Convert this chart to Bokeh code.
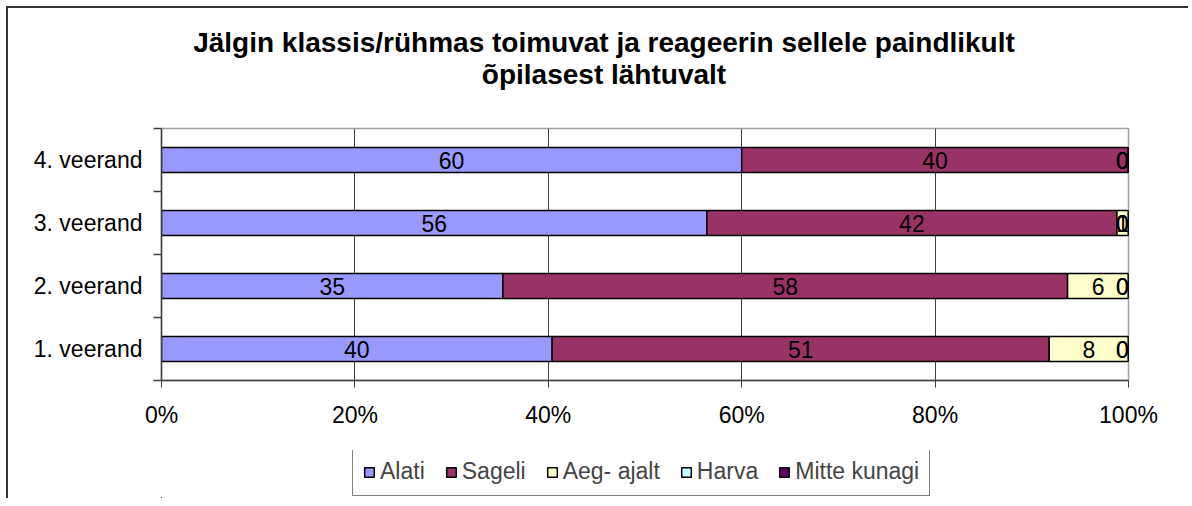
import numpy as np
from bokeh.plotting import figure
from bokeh.layouts import column
from bokeh.models import (ColumnDataSource, FixedTicker, PrintfTickFormatter, Div,
                          Legend, LegendItem, Range1d, LabelSet)
from bokeh.core.properties import value
from bokeh.embed import file_html
from bokeh.resources import INLINE

# ---------------- data ----------------
categories = ["1. veerand", "2. veerand", "3. veerand", "4. veerand"]
series = ["Alati", "Sageli", "Aeg- ajalt", "Harva", "Mitte kunagi"]
alati = [40.4, 35.3, 56.4, 60.0]
sageli = [51.4, 58.4, 42.4, 40.0]
aeg_ajalt = [8.2, 6.3, 1.2, 0.0]
harva = [0.0, 0.0, 0.0, 0.0]
mitte_kunagi = [0.0, 0.0, 0.0, 0.0]
colors = ["#9999FF", "#993366", "#FFFFCC", "#CCFFFF", "#660066"]
x_ticks = [0, 20, 40, 60, 80, 100]
title_lines = ["Jälgin klassis/rühmas toimuvat ja reageerin sellele paindlikult",
               "õpilasest lähtuvalt"]

FONT = "Liberation Sans"
W = 1170
TITLE_H = 90

values = [alati, sageli, aeg_ajalt, harva, mitte_kunagi]
ypos = np.arange(len(categories)) + 0.5
src = ColumnDataSource(dict(y=ypos, **{s: v for s, v in zip(series, values)}))

# label positions (segment centres)
arr = np.array(values)
cum = np.cumsum(arr, axis=0)
starts = cum - arr
lx, ly, lt, lo = [], [], [], []
for i in range(len(series)):
    for j in range(len(categories)):
        cx = starts[i, j] + arr[i, j] / 2
        lx.append(cx)
        ly.append(ypos[j])
        lt.append(str(int(round(arr[i, j]))))
        lo.append(-6 if cx > 99.7 else 0)
lab_src = ColumnDataSource(dict(x=lx, y=ly, t=lt, off=lo))

# ---------------- title ----------------
title_div = Div(
    text=(f'<div style="position:relative;left:6px;width:{W}px;text-align:center;'
          f'font-family:\'{FONT}\';font-weight:bold;font-size:28px;line-height:32px;'
          'color:black;padding-top:14px;">'
          + "<br>".join(title_lines) + '</div>'),
    width=W, height=TITLE_H)

# ---------------- main chart ----------------
p = figure(width=W, height=342, x_range=Range1d(0, 100), y_range=Range1d(0, 4),
           output_backend="svg", toolbar_location=None,
           min_border_left=153, min_border_right=W - 1120, min_border_top=20,
           min_border_bottom=70)
p.background_fill_color = "white"
p.border_fill_color = "white"
p.outline_line_color = "#a0a0a0"
p.outline_line_width = 1.5

renderers = p.hbar_stack(series, y="y", height=0.4, color=colors, line_color="black",
                         line_width=1.5, source=src)

labels = LabelSet(x="x", y="y", text="t", x_offset="off", source=lab_src, text_align="center",
                  text_baseline="middle", text_font=value(FONT), text_font_size="23px",
                  text_color="black")
p.add_layout(labels)

# x axis
p.xaxis.ticker = FixedTicker(ticks=x_ticks, minor_ticks=[])
p.xaxis.formatter = PrintfTickFormatter(format="%d%%")
p.xaxis.major_tick_out = 7
p.xaxis.major_tick_in = 0
p.xaxis.major_tick_line_color = "#404040"
p.xaxis.axis_line_color = "#404040"
p.xaxis.axis_line_width = 1.5
p.xaxis.major_label_text_font = FONT
p.xaxis.major_label_text_font_size = "23px"
p.xaxis.major_label_text_color = "black"
p.xaxis.major_label_standoff = 14

# y axis
p.yaxis.ticker = FixedTicker(ticks=list(ypos), minor_ticks=list(range(len(categories) + 1)))
p.yaxis.major_label_overrides = {float(y): c for y, c in zip(ypos, categories)}
p.yaxis.major_tick_line_color = None
p.yaxis.major_tick_out = 8
p.yaxis.major_tick_in = 0
p.yaxis.minor_tick_out = 8
p.yaxis.minor_tick_in = 0
p.yaxis.minor_tick_line_color = "#404040"
p.yaxis.minor_tick_line_width = 1.5
p.yaxis.axis_line_color = "#404040"
p.yaxis.axis_line_width = 1.5
p.yaxis.major_label_text_font = FONT
p.yaxis.major_label_text_font_size = "23px"
p.yaxis.major_label_text_color = "black"
p.yaxis.major_label_standoff = 11

p.xgrid.ticker = FixedTicker(ticks=x_ticks[1:-1])
p.xgrid.grid_line_color = "#404040"
p.xgrid.grid_line_width = 1
p.ygrid.grid_line_color = None

# ---------------- legend strip ----------------
# same data source; its ranges keep the bars out of view so only the legend shows
pl = figure(width=W, height=48, x_range=Range1d(1000, 1001), y_range=Range1d(1000, 1001),
            output_backend="svg", toolbar_location=None, x_axis_type=None, y_axis_type=None,
            min_border=0)
pl.outline_line_color = None
pl.border_fill_color = "white"
pl.background_fill_color = "white"
pl.grid.visible = False
leg_r = pl.hbar_stack(series, y="y", height=0.4, color=colors, line_color="black",
                      line_width=1.5, source=src)
legend = Legend(items=[LegendItem(label=s, renderers=[r]) for s, r in zip(series, leg_r)],
                orientation="horizontal", location=(191, 2), margin=0,
                label_text_font=FONT, label_text_font_size="23px",
                glyph_width=12, glyph_height=12, label_standoff=5, spacing=20,
                padding=10, border_line_color="black", border_line_width=1)
pl.add_layout(legend, "center")

layout = column(title_div, p, pl, spacing=0)
layout.styles = {"border-left": "2px solid #333333", "border-top": "2px solid #333333",
                 "margin-left": "6px", "margin-top": "6px"}

open("out.html", "w").write(file_html(layout, INLINE))
